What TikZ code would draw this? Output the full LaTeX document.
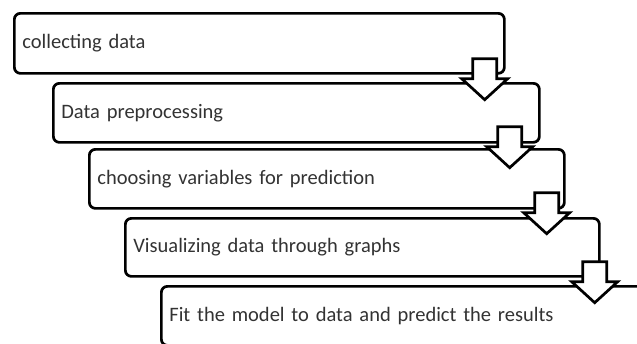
\documentclass[tikz,border=0pt]{standalone}
\usepackage{fontspec}
\setmainfont{Carlito}
\usetikzlibrary{calc}
\tikzset{stepbox/.style = {draw, line width=1.35pt, rounded corners=3pt, fill=white,
                           anchor=north west, inner xsep=4pt, inner ysep=0pt,
                           text width=#1, align=left, text=black!80,
                           font=\fontsize{10.25}{12}\selectfont},
         downarrow/.pic = {\draw [line width=1.35pt, fill=white, line join=miter]
                           (-12,0) -- (12,0) -- (12,20) -- (23,20) -- (0,41)
                           -- (-23,20) -- (-12,20) -- cycle;}}

\begin{document}
\begin{tikzpicture}[x=0.5pt, y=-0.5pt]
\useasboundingbox (0,0) rectangle (637,343);
\clip (0,0) rectangle (637,343);
% the five steps
\node [stepbox=237pt, minimum height=30pt]   (b1) at (13,12)  {collecting data};
\node [stepbox=235pt, minimum height=29.5pt] (b2) at (52,82)  {Data preprocessing};
\node [stepbox=229.5pt, minimum height=29.5pt] (b3) at (88,148) {choosing variables for prediction};
\node [stepbox=229pt, minimum height=29pt]   (b4) at (124,217) {Visualizing data through graphs};
\node [stepbox=252pt, minimum height=29.5pt] (b5) at (160,285) {Fit the model to data and predict the results};
% block arrows between them
\pic at ($(b1.south east)+(-21,-16)$) {downarrow};
\pic at ($(b2.south east)+(-31,-17)$) {downarrow};
\pic at ($(b3.south east)+(-19,-17)$) {downarrow};
\pic at ($(b4.south east)+(-6,-16)$) {downarrow};
\end{tikzpicture}
\end{document}
